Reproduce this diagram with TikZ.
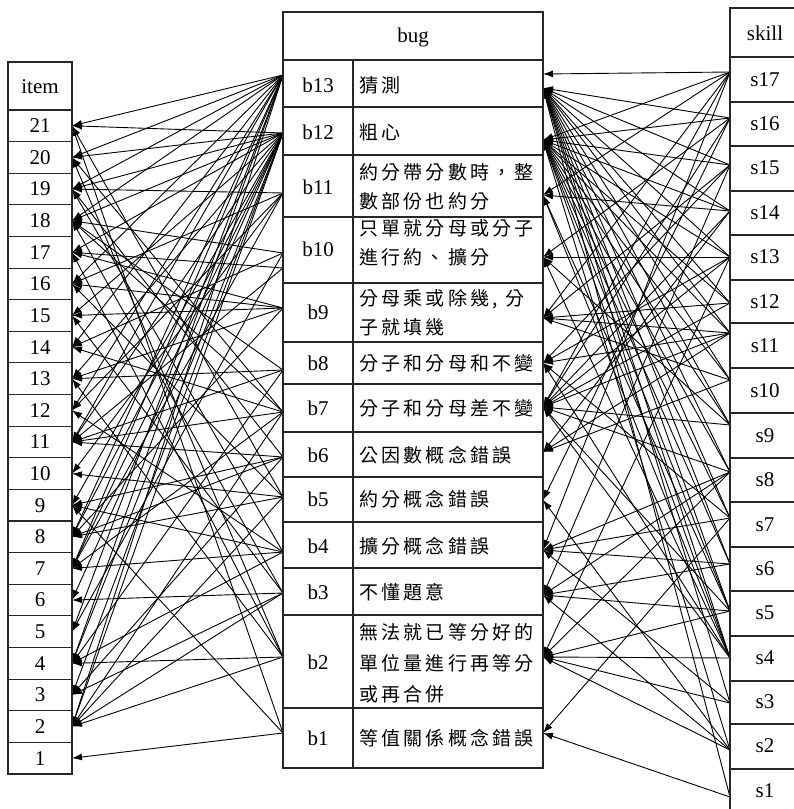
\documentclass[tikz,border=0pt]{standalone}
\usepackage{fontspec}
\setmainfont{Liberation Serif}
\newfontfamily\cjk[LetterSpace=17]{Noto Sans CJK TC}
\usetikzlibrary{arrows.meta}
\begin{document}
\begin{tikzpicture}[x=1pt,y=-1pt,
  tbl/.style={draw=black!85,line width=1.1pt},
  lab/.style={font=\fontsize{21}{24}\selectfont,inner sep=0pt},
  ctext/.style={font=\cjk\fontsize{19}{29}\selectfont,align=left,anchor=west,inner sep=0pt},
  conn/.style={-{Latex[length=10pt,width=7pt]},line width=0.9pt,black}]
\useasboundingbox (0,0) rectangle (793,809);

% ---------- attachment coordinates ----------
\foreach \k in {1,...,21}{\coordinate (I\k) at (72,{774-(\k-0.5)*31.62});}
\foreach \b/\y in {13/75,12/133,11/193,10/253,10b/268,9/308,8/370,7/412,6/457,5/497,4/552,3/593,2/657,1/733}
  {\coordinate (L\b) at (283,\y);}
\foreach \b/\y in {13/74,13b/88,12/140,11/195,10/257,9/318,8/363,7/407,6/452,5/500,4/550,3/595,2/657,1/733}
  {\coordinate (R\b) at (543,\y);}
\foreach \s/\y in {17/72,16/118,15/165,14/211,13/257,12/303,11/333,10/380,9/425,8/472,7/518,6/564,5/611,4/658,3/703,2/750,1/797}
  {\coordinate (S\s) at (730,\y);}

% ---------- bug -> item ----------
\foreach \b/\i in {13/21,13/20,13/19,13/18,13/16,13/14,13/12,13/11,13/8,13/7,13/5,13/4,13/2,
  12/21,12/20,12/19,12/18,12/17,12/15,12/13,12/11,12/9,12/8,12/7,12/6,12/4,12/3,12/2,
  11/19,11/16,11/12,11/10,11/7,
  10/18,10b/17,10/14,10b/11,10/5,
  9/17,9/15,9/16,9/13,9/8,
  8/13,8/18,8/11,8/4,
  7/14,7/11,7/20,7/18,7/7,7/2,
  6/11,6/9,6/8,6/19,6/3,
  5/10,5/8,5/21,5/16,5/2,
  4/9,4/7,4/19,4/12,4/4,
  3/6,3/3,3/18,3/15,3/2,
  2/4,2/2,2/20,2/17,2/13,
  1/1,1/21,1/9}
  {\draw[conn] (L\b) -- (I\i);}

% ---------- skill -> bug ----------
\foreach \s/\b in {17/13,17/12,17/11,17/9,17/7,17/4,
  16/13b,16/12,16/10,16/7,16/5,
  15/13b,15/12,15/9,15/8,15/3,
  14/13b,14/12,14/11,14/7,14/6,
  13/13b,13/12,13/10,13/8,13/7,13/2,
  12/13b,12/12,12/9,12/7,
  11/13b,11/12,11/9,11/8,11/7,11/6,
  10/13b,10/12,10/6,10/9,
  9/13b,9/12,9/7,9/10,
  8/13b,8/12,8/7,8/4,8/2,8/3,
  7/13b,7/12,7/4,7/1,7/8,
  6/13b,6/12,6/4,6/3,
  5/13b,5/12,5/11,5/7,5/3,5/2,
  4/13b,4/12,4/11,4/10,4/8,4/7,4/2,
  3/13b,3/4,3/2,
  2/12,2/3,2/2,2/5,
  1/13b,1/1}
  {\draw[conn] (S\s) -- (R\b);}

% ---------- item table ----------
\draw[tbl] (8,62) rectangle (72,774);
\draw[tbl] (8,110) -- (72,110);
\foreach \k in {1,...,20}{\draw[tbl] (8,{774-\k*31.62}) -- (72,{774-\k*31.62});}
\node[lab] (itemh) at (40,87) {item};
\foreach \k in {1,...,21}{\node[lab] (i\k) at (40,{774-(\k-0.5)*31.62}) {\k};}

% ---------- bug table ----------
\draw[tbl] (283,12) rectangle (543,768);
\draw[tbl] (353,60) -- (353,768);
\foreach \y in {60,107,155,217,283,342,384,432,477,522,568,615,708}{\draw[tbl] (283,\y) -- (543,\y);}
\node[lab] (bugh) at (413,37) {bug};
\foreach \b/\y in {13/85,12/132,11/187,10/249,9/312,8/363,7/408,6/455,5/499,4/546,3/592,2/662,1/738}
  {\node[lab] (b\b) at (318,\y) {b\b};}
\node[ctext] (t13) at (359,85) {猜測};
\node[ctext] (t12) at (359,132) {粗心};
\node[ctext] (t11) at (359,187) {約分帶分數時，整\\數部份也約分};
\node[ctext] (t10) at (359,243) {只單就分母或分子\\進行約、擴分};
\node[ctext] (t9) at (359,313) {分母乘或除幾, 分\\子就填幾};
\node[ctext] (t8) at (359,363) {分子和分母和不變};
\node[ctext] (t7) at (359,408) {分子和分母差不變};
\node[ctext] (t6) at (359,455) {公因數概念錯誤};
\node[ctext] (t5) at (359,499) {約分概念錯誤};
\node[ctext] (t4) at (359,546) {擴分概念錯誤};
\node[ctext] (t3) at (359,592) {不懂題意};
\node[ctext,font=\cjk\fontsize{19}{31}\selectfont] (t2) at (359,663) {無法就已等分好的\\單位量進行再等分\\或再合併};
\node[ctext] (t1) at (359,738) {等值關係概念錯誤};

% ---------- skill table ----------
\draw[tbl] (800,8) -- (730,8) -- (730,812);
\foreach \y in {57,102,146,191,235,280,323,368,413,458,502,547,591,636,681,724,769}{\draw[tbl] (730,\y) -- (800,\y);}
\node[lab] (skillh) at (765,33) {skill};
\foreach \s/\y in {17/80,16/124,15/168,14/213,13/257,12/302,11/346,10/391,9/436,8/480,7/525,6/569,5/613,4/658,3/702,2/746,1/791}
  {\node[lab] (s\s) at (765,\y) {s\s};}
\end{tikzpicture}
\end{document}
